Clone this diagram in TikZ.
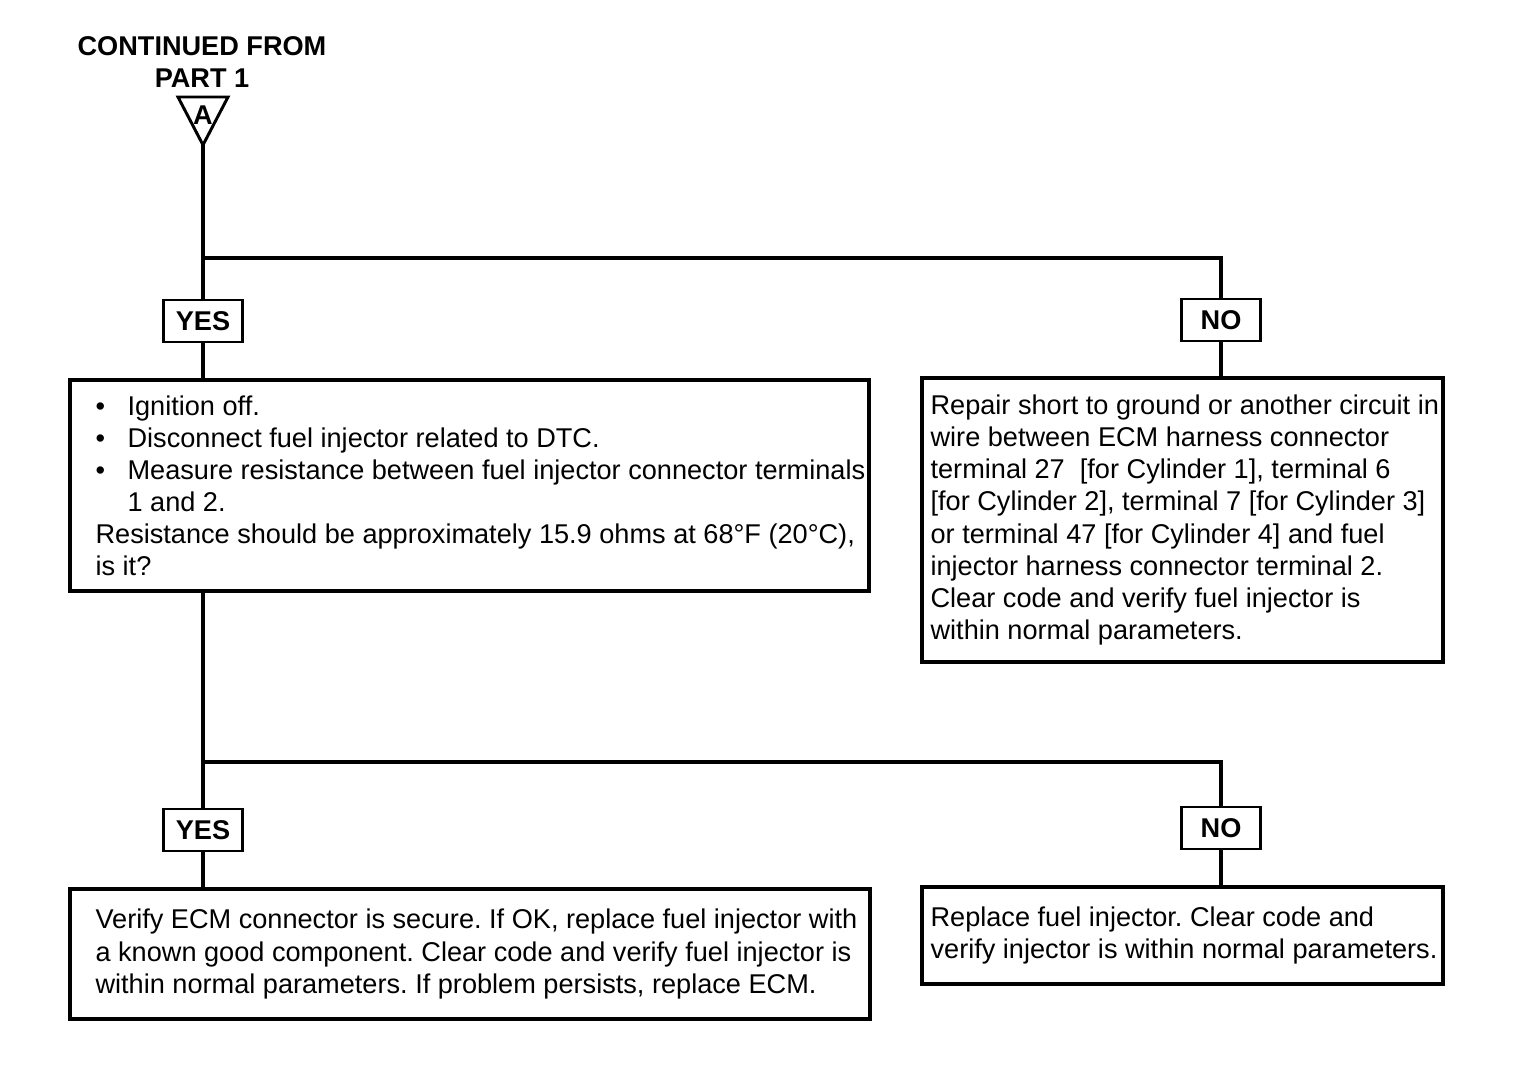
\documentclass[tikz,border=0pt]{standalone}
\usepackage{fontspec}
\setmainfont{Liberation Sans}
\frenchspacing
\newcommand\fsz{\fontsize{19.3}{22.8}\selectfont}
\tikzset{
  lbl/.style={draw, line width=2.1pt, minimum width=1.975cm, minimum height=1.05cm, inner sep=0pt, font=\fsz\bfseries},
  bigbox/.style={draw, line width=2.3pt, inner sep=0pt},
  txt/.style={align=left, inner sep=0pt, font=\fsz, anchor=west},
  conn/.style={line width=2.2pt},
}
\begin{document}
\begin{tikzpicture}[x=0.025cm,y=-0.025cm]
\useasboundingbox (0,0) rectangle (1520,1068);
% header
\node[align=center, inner sep=0pt, font=\fsz\bfseries] (head) at (202,62) {CONTINUED FROM\\PART 1};
\draw[line width=2.1pt, line join=miter] (178,97) -- (228,97) -- (203,145) -- cycle;
\coordinate (apex) at (203,145);
\node[inner sep=0pt, font=\fsz\bfseries] (A) at (203,115) {A};
% first decision
\coordinate (j1) at (203,258);
\coordinate (j1r) at (1221,258);
\node[lbl] (yes1) at (203,321) {YES};
\node[lbl] (no1) at (1221,320) {NO};
\node[bigbox, minimum width=19.975cm, minimum height=5.275cm] (b1) at (469.5,485.5) {};
\node[bigbox, minimum width=13.025cm, minimum height=7.1cm] (b2) at (1182.5,520) {};
\node[txt] (t1) at ([xshift=0.675cm]b1.west) {%
\makebox[0.8cm][l]{\textbullet}Ignition off.\\
\makebox[0.8cm][l]{\textbullet}Disconnect fuel injector related to DTC.\\
\makebox[0.8cm][l]{\textbullet}Measure resistance between fuel injector connector terminals\\
\hspace*{0.8cm}1 and 2.\\
Resistance should be approximately 15.9 ohms at 68°F (20°C),\\
is it?};
\node[txt] (t2) at ([xshift=0.25cm]b2.west) {%
Repair short to ground or another circuit in\\
wire between ECM harness connector\\
terminal 27\ \ [for Cylinder 1], terminal 6\\
{}[for Cylinder 2], terminal 7 [for Cylinder 3]\\
or terminal 47 [for Cylinder 4] and fuel\\
injector harness connector terminal 2.\\
Clear code and verify fuel injector is\\
within normal parameters.};
% second decision
\coordinate (j2) at (203,762);
\coordinate (j2r) at (1221,762);
\node[lbl] (yes2) at (203,830) {YES};
\node[lbl] (no2) at (1221,828) {NO};
\node[bigbox, minimum width=20cm, minimum height=3.25cm] (b3) at (470,954) {};
\node[bigbox, minimum width=13.025cm, minimum height=2.425cm] (b4) at (1182.5,935.5) {};
\node[txt] (t3) at ([xshift=0.675cm]b3.west) {%
Verify ECM connector is secure. If OK, replace fuel injector with\\
a known good component. Clear code and verify fuel injector is\\
within normal parameters. If problem persists, replace ECM.};
\node[txt] (t4) at ([xshift=0.25cm]b4.west) {%
Replace fuel injector. Clear code and\\
verify injector is within normal parameters.};
% connectors
\draw[conn] (apex) -- (j1) -- (j1r) -- (no1.north);
\draw[conn] (j1) -- (yes1.north);
\draw[conn] (yes1.south) -- (yes1.south |- b1.north);
\draw[conn] (no1.south) -- (no1.south |- b2.north);
\draw[conn] (yes1.south |- b1.south) -- (j2) -- (j2r) -- (no2.north);
\draw[conn] (j2) -- (yes2.north);
\draw[conn] (yes2.south) -- (yes2.south |- b3.north);
\draw[conn] (no2.south) -- (no2.south |- b4.north);
\end{tikzpicture}
\end{document}
